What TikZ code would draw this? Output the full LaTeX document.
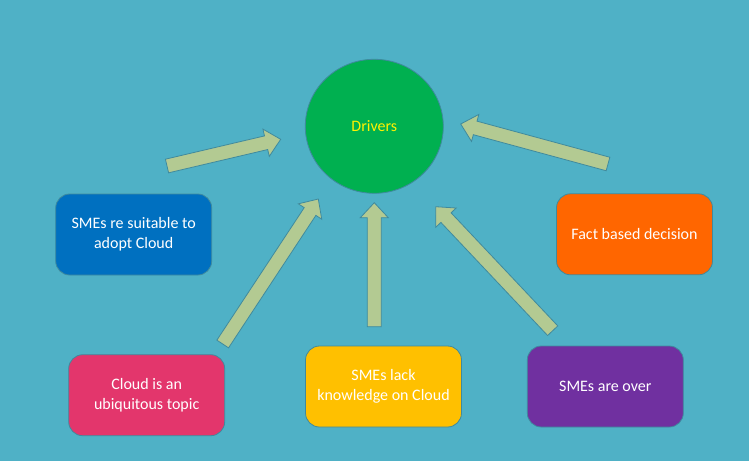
\documentclass[tikz,border=0pt]{standalone}
\usepackage{fontspec}
\setmainfont{Carlito}
\usetikzlibrary{calc,shapes.geometric}
\definecolor{bgc}{HTML}{4FB1C6}
\definecolor{edgec}{HTML}{3F8A9E}
\definecolor{arrc}{HTML}{B3CA92}
\definecolor{c1}{HTML}{0070C0}
\definecolor{c2}{HTML}{FF6600}
\definecolor{c3}{HTML}{E3366C}
\definecolor{c4}{HTML}{FFC000}
\definecolor{c5}{HTML}{7030A0}
\definecolor{c6}{HTML}{00B050}
\tikzset{
  box/.style={draw=edgec, line width=0.8pt, rounded corners=14pt, minimum width=156pt, minimum height=81pt,
    text=white, align=center, font=\fontsize{16pt}{20pt}\selectfont, inner sep=0pt},
  barrow/.style={draw=edgec, line width=0.8pt, fill=arrc, line join=miter},
}
\newcommand\blockarrow[2]{%
  \coordinate (hb) at ($(#2)!15pt!(#1)$);
  \draw[barrow] ($(#1)!7pt!90:(#2)$) -- ($(hb)!7pt!90:(#2)$) -- ($(hb)!14pt!90:(#2)$) -- (#2)
    -- ($(hb)!14pt!-90:(#2)$) -- ($(hb)!7pt!-90:(#2)$) -- ($(#1)!7pt!-90:(#2)$) -- cycle;}
\begin{document}
\begin{tikzpicture}[x=1pt,y=-1pt]
\useasboundingbox (0,0) rectangle (749,461);
\fill[bgc] (0,0) rectangle (749,461);
% central node
\node[ellipse, draw=edgec, line width=0.8pt, fill=c6, minimum width=138pt, minimum height=134pt, inner sep=0pt,
  text={yellow}, font=\fontsize{16pt}{20pt}\selectfont] (drv) at (374.3,126.3) {Drivers};
% boxes
\node[box, fill=c1] (suit) at (133.7,234.5) {SMEs re suitable to\\adopt Cloud};
\node[box, fill=c2] (fact) at (634.5,234.3) {Fact based decision};
\node[box, fill=c3] (ubiq) at (146.7,395.2) {Cloud is an\\ubiquitous topic};
\node[box, fill=c4] (lack) at (383.5,386.5) {SMEs lack\\knowledge on Cloud};
\node[box, fill=c5] (over) at (605.3,386.5) {SMEs are over};
% arrow end points
\coordinate (a1t) at (167,166);   \coordinate (a1h) at (280.7,139.3);
\coordinate (a2t) at (608,164);   \coordinate (a2h) at (460.7,124);
\coordinate (a3t) at (222.7,344); \coordinate (a3h) at (318.3,199);
\coordinate (a4t) at (374.3,326.7); \coordinate (a4h) at (374.3,202.7);
\coordinate (a5t) at (552.7,330.7); \coordinate (a5h) at (435.7,206.7);
\blockarrow{a1t}{a1h}
\blockarrow{a2t}{a2h}
\blockarrow{a3t}{a3h}
\blockarrow{a4t}{a4h}
\blockarrow{a5t}{a5h}
\end{tikzpicture}
\end{document}
